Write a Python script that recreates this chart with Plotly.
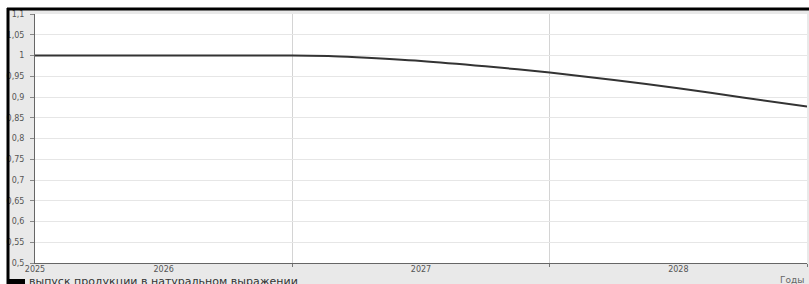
import plotly.graph_objects as go

# Data (time in years from start of 2025, value)
t_years = [0.0, 0.13, 0.5, 1.0, 1.14, 1.25, 1.5, 1.75, 2.0, 2.25, 2.5, 2.75, 3.0]
output_values = [1.0, 1.0, 1.0, 1.0, 0.999, 0.996, 0.987, 0.974, 0.959, 0.941, 0.921, 0.899, 0.877]

x_tick_pos = [0, 0.5, 1.5, 2.5]
x_tick_labels = ["2025", "2026", "2027", "2028"]
year_bounds = [1, 2, 3]

series_name = "выпуск продукции в натуральном выражении"
x_title = "Годы"

W, H = 809, 284
ML, MR, MT, MB = 35, 2, 14, 21
PW, PH = W - ML - MR, H - MT - MB

def px(x):
    return (x - ML) / PW

def py(y):
    return (H - MB - y) / PH

fig = go.Figure()
fig.add_trace(go.Scatter(
    x=t_years, y=output_values, mode="lines", name=series_name,
    line=dict(color="#333333", width=2, shape="spline", smoothing=0.8), showlegend=False,
    hoverinfo="skip",
))

font_family = "DejaVu Sans, Verdana, sans-serif"

fig.update_layout(
    template="none",
    width=W, height=H,
    margin=dict(l=ML, r=MR, t=MT, b=MB, pad=0),
    paper_bgcolor="#e9e9e9",
    plot_bgcolor="#ffffff",
    separators=", ",
    font=dict(family=font_family, size=8, color="#555555"),
    xaxis=dict(
        range=[0, 3], tickmode="array", tickvals=x_tick_pos, ticktext=x_tick_labels,
        showgrid=False, zeroline=False, showline=True, linecolor="#666666", linewidth=1,
        ticks="", automargin=False, ticklabelstandoff=-2,
        tickfont=dict(size=8, color="#555555"),
        minor=dict(tickmode="array", tickvals=year_bounds, showgrid=True,
                   gridcolor="#d4d4d4", gridwidth=1, ticks="outside", ticklen=3,
                   tickcolor="#777777"),
    ),
    yaxis=dict(
        range=[0.5, 1.1], dtick=0.05, tick0=0.5, showgrid=True, gridcolor="#e6e6e6",
        gridwidth=1, zeroline=False, showline=True, linecolor="#666666", linewidth=1,
        ticks="outside", ticklen=4, tickcolor="#888888", automargin=False,
        ticklabelstandoff=4,
        tickfont=dict(size=8, color="#555555"),
    ),
    shapes=[
        # white outside the frame
        dict(type="rect", xref="paper", yref="paper", x0=px(-5), x1=px(W + 5), y0=py(8), y1=py(-5),
             fillcolor="white", line=dict(width=0), layer="below"),
        dict(type="rect", xref="paper", yref="paper", x0=px(-5), x1=px(7), y0=py(H + 5), y1=py(-5),
             fillcolor="white", line=dict(width=0), layer="below"),
        # frame lines
        dict(type="line", xref="paper", yref="paper", x0=px(7), x1=px(W + 5), y0=py(9), y1=py(9),
             line=dict(color="black", width=3)),
        dict(type="line", xref="paper", yref="paper", x0=px(8), x1=px(8), y0=py(8), y1=py(H + 5),
             line=dict(color="black", width=3)),
        # legend swatch
        dict(type="rect", xref="paper", yref="paper", x0=px(9), x1=px(25), y0=py(279), y1=py(H + 5),
             fillcolor="black", line=dict(width=0)),
    ],
    annotations=[
        dict(text=series_name, xref="paper", yref="paper", x=px(27), y=py(281),
             xanchor="left", yanchor="middle", showarrow=False,
             font=dict(family=font_family, size=11, color="#333333")),
        dict(text=x_title, xref="paper", yref="paper", x=px(806), y=py(279.5),
             xanchor="right", yanchor="middle", showarrow=False,
             font=dict(family=font_family, size=9, color="#666666")),
    ],
)

fig.write_html("out.html", config={"displayModeBar": False},
               post_script="document.body.style.margin='0';document.body.style.padding='0';")
